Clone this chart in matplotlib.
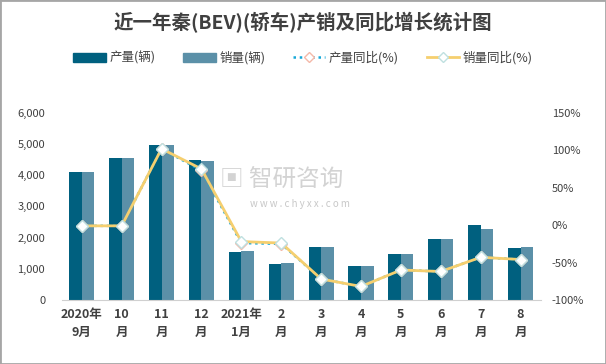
import numpy as np
import matplotlib
matplotlib.use('Agg')
import matplotlib.pyplot as plt
from matplotlib.patches import Patch, Rectangle
from matplotlib.lines import Line2D

plt.rcParams['font.family'] = ['Noto Sans CJK SC', 'DejaVu Sans']

# data
months = ['2020年\n9月', '10\n月', '11\n月', '12\n月', '2021年\n1月', '2\n月',
          '3\n月', '4\n月', '5\n月', '6\n月', '7\n月', '8\n月']
production = [4100, 4560, 4970, 4490, 1540, 1160, 1690, 1090, 1475, 1960, 2395, 1670]
sales = [4100, 4560, 4970, 4460, 1570, 1190, 1690, 1090, 1475, 1960, 2275, 1700]
production_yoy = [-1, -1, 102, 73, -24, -25, -72, -82, -60, -62, -43, -46]
sales_yoy = [-1, -1, 102, 75, -22, -24, -72, -82, -60, -62, -43, -46]

c_prod = '#00607f'
c_sales = '#5b90a8'
c_yellow = '#f5cf6f'
c_dot = '#17a8d8'
c_text = '#404040'

fig = plt.figure(figsize=(6.06, 3.64), dpi=100)
ax = fig.add_axes([0.102, 0.176, 0.790, 0.514])

x = np.arange(len(months))
w = 0.315
ax.bar(x - w / 2, production, w, color=c_prod, zorder=2)
ax.bar(x + w / 2, sales, w, color=c_sales, zorder=2)

ax.set_xlim(-0.5, len(months) - 0.5)
ax.set_ylim(0, 6000)
ax.set_yticks(range(0, 6001, 1000))
ax.set_yticklabels([f'{v:,}' for v in range(0, 6001, 1000)])
ax.set_xticks(x)
ax.set_xticklabels(months, fontsize=9, fontweight='bold', color=c_text, linespacing=1.5)
ax.tick_params(axis='y', length=0, labelsize=8, labelcolor=c_text, pad=12)
ax.tick_params(axis='x', length=0, pad=6)
for s in ['top', 'right', 'left']:
    ax.spines[s].set_visible(False)
ax.spines['bottom'].set_color('#d0d0d0')

ax2 = ax.twinx()
ax2.plot(x, production_yoy, color=c_dot, ls=(0, (1, 1.5)), lw=1.8,
         marker='D', ms=6, mfc='white', mec='#f4b8a8', zorder=3)
ax2.plot(x, sales_yoy, color=c_yellow, lw=2,
         marker='D', ms=6, mfc='white', mec='#bfe0e0', zorder=4)
ax2.set_ylim(-100, 150)
ax2.set_yticks(range(-100, 151, 50))
ax2.set_yticklabels([f'{v}%' for v in range(-100, 151, 50)])
ax2.tick_params(axis='y', length=0, labelsize=8, labelcolor=c_text, pad=8)
for s in ['top', 'right', 'left', 'bottom']:
    ax2.spines[s].set_visible(False)

# watermark
fig.text(0.465, 0.505, '▣ 智研咨询', fontsize=17, color='#c8c8c8', ha='center', va='center', alpha=0.8)
fig.text(0.495, 0.44, 'w w w . c h y x x . c o m', fontsize=7, color='#c8c8c8', ha='center', va='center')

fig.text(0.5, 0.937, '近一年秦(BEV)(轿车)产销及同比增长统计图', ha='center', va='center',
         fontsize=14, fontweight='bold', color=c_text)

handles = [
    Patch(color=c_prod),
    Patch(color=c_sales),
    Line2D([], [], color=c_dot, ls=(0, (1, 1.5)), lw=1.8, marker='D', ms=5, mfc='white', mec='#f4b8a8'),
    Line2D([], [], color=c_yellow, lw=2, marker='D', ms=5, mfc='white', mec='#bfe0e0'),
]
labels = ['产量(辆)', '销量(辆)', '产量同比(%)', '销量同比(%)']
fig.legend(handles, labels, loc='center', bbox_to_anchor=(0.5, 0.84), ncol=4, frameon=False,
           fontsize=9, handlelength=2.6, handleheight=0.8, columnspacing=2.2, handletextpad=0.3,
           labelcolor=c_text)

fig.patches.append(Rectangle((0, 0), 1, 1, transform=fig.transFigure, fill=False,
                             edgecolor='#a6a6a6', lw=2))

fig.savefig('out.png', dpi=100)
